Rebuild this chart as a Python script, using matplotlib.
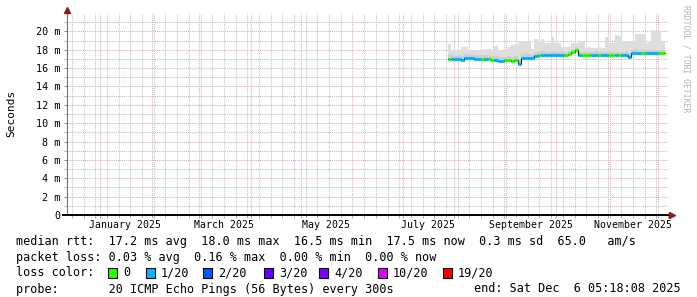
import pandas as pd
import matplotlib
matplotlib.use("Agg")
import matplotlib.pyplot as plt
import matplotlib.dates as mdates
from matplotlib.patches import Rectangle

# values, one per 2-day bin starting 2025-07-28
bin_start = "2025-07-28"
median_ms = [17.03, 17.03, 17.03, 17.03, 16.90, 17.14, 17.14, 17.14,
             17.03, 17.03, 17.03, 17.03, 17.03,
             16.90, 16.85, 16.80, 16.80, 16.85, 16.85, 16.80, 16.85,
             16.50,
             17.15, 17.15, 17.15, 17.15, 17.30,
             17.45, 17.45, 17.45, 17.45, 17.45, 17.45, 17.45, 17.45, 17.45,
             17.50, 17.75, 18.00,
             17.45, 17.45, 17.40, 17.45, 17.45, 17.45, 17.45, 17.40, 17.45,
             17.45, 17.45, 17.45, 17.40, 17.45, 17.45,
             17.25,
             17.68, 17.68, 17.68, 17.68, 17.68, 17.68, 17.68, 17.68, 17.65, 17.60]
smoke_top = [18.66, 18.0, 18.0, 18.0, 18.3, 18.3,
             17.95, 17.95, 18.0, 17.95, 18.0, 18.1, 18.1,
             17.85, 18.45, 17.9, 17.85, 17.9, 18.3, 18.5, 18.6,
             18.8, 18.8, 18.8, 18.8, 18.1, 19.2, 19.0, 19.2,
             18.7, 18.7, 19.4, 18.7, 18.7, 18.3, 18.3, 18.3,
             18.7, 18.7, 18.9, 19.0,
             18.2, 18.3, 18.2, 18.2, 18.3, 18.2, 19.4, 18.7, 18.7,
             19.6, 19.5, 19.0, 18.9, 18.8, 18.9, 19.75, 19.7, 19.7,
             18.7, 18.8, 20.1, 20.0, 19.9, 18.9]
smoke_mid = [17.45, 17.4, 17.35, 17.4, 17.3, 17.5, 17.55, 17.5,
             17.4, 17.45, 17.4, 17.45, 17.4,
             17.3, 17.35, 17.2, 17.2, 17.25, 17.3, 17.25, 17.3,
             17.0,
             17.55, 17.6, 17.5, 17.55, 17.7,
             17.8, 17.85, 17.8, 17.8, 17.85, 17.8, 17.8, 17.85, 17.8,
             17.85, 18.1, 18.3,
             17.8, 17.8, 17.75, 17.8, 17.8, 17.85, 17.8, 17.75, 17.8,
             17.85, 17.8, 17.8, 17.75, 17.8, 17.85,
             17.6,
             18.0, 18.05, 18.0, 18.05, 18.0, 18.0, 18.05, 18.0, 18.0, 17.95]
smoke_low = [16.85, 16.85, 16.85, 16.85, 16.70, 16.95, 16.95, 16.95,
             16.85, 16.85, 16.85, 16.85, 16.85,
             16.70, 16.65, 16.60, 16.60, 16.65, 16.65, 16.60, 16.65,
             16.35,
             16.95, 16.95, 16.95, 16.95, 17.10,
             17.25, 17.25, 17.25, 17.25, 17.25, 17.25, 17.25, 17.25, 17.25,
             17.30, 17.55, 17.80,
             17.25, 17.25, 17.20, 17.25, 17.25, 17.25, 17.25, 17.20, 17.25,
             17.25, 17.25, 17.25, 17.20, 17.25, 17.25,
             17.05,
             17.45, 17.45, 17.45, 17.45, 17.45, 17.45, 17.45, 17.45, 17.45, 17.40]
# packet loss per bin: 0 -> 0/20, 1 -> 1/20
loss_level = [0, 1, 1, 1, 1, 1, 1, 1, 1, 1, 0, 1, 0, 0, 1, 1, 1, 0, 0, 0, 0,
              1, 1, 1, 1, 1, 1, 0, 1, 1, 1, 1, 1, 1, 1, 0, 0, 0, 0,
              1, 0, 0, 0, 1, 1, 0, 1, 1, 0, 0, 1, 0, 1, 1, 1,
              1, 1, 1, 0, 1, 1, 1, 1, 0, 0]

y_ticks = [0, 2, 4, 6, 8, 10, 12, 14, 16, 18, 20]
y_labels = ["0", "2 m", "4 m", "6 m", "8 m", "10 m", "12 m", "14 m", "16 m", "18 m", "20 m"]
month_labels = ["January 2025", "March 2025", "May 2025", "July 2025",
                "September 2025", "November 2025"]
month_label_at = ["2025-01-16", "2025-03-16", "2025-05-16", "2025-07-16",
                  "2025-09-16", "2025-11-16"]
x_start, x_end = "2024-12-12", "2025-12-07"

loss_names = ["0", "1/20", "2/20", "3/20", "4/20", "10/20", "19/20"]
loss_colors = ["#26ff00", "#00b8ff", "#0059ff", "#5e00ff", "#7e00ff", "#dd00ff", "#ff0000"]

MONO = "DejaVu Sans Mono"
W, H = 697, 297

fig = plt.figure(figsize=(W / 100, H / 100), dpi=100)
fig.patch.set_facecolor("white")
ax = fig.add_axes([67 / W, 1 - 215 / H, 601 / W, 202 / H])

dates = pd.date_range(bin_start, periods=len(median_ms), freq="2D")
edges = list(dates) + [dates[-1] + pd.Timedelta(days=2)]

# smoke
ax.fill_between(edges, smoke_low + smoke_low[-1:], smoke_top + smoke_top[-1:],
                step="post", color="#dedede", lw=0, zorder=2)
ax.fill_between(edges, smoke_low + smoke_low[-1:], smoke_mid + smoke_mid[-1:],
                step="post", color="#cfcfcf", lw=0, zorder=2)

# median: thin black steps, coloured bars by loss on top
ax.step(edges, median_ms + median_ms[-1:], where="post", color="black", lw=0.8, zorder=3)
for i, m in enumerate(median_ms):
    ax.hlines(m, edges[i], edges[i + 1], color=loss_colors[loss_level[i]],
              lw=2.3, zorder=4)

ax.set_xlim(pd.Timestamp(x_start), pd.Timestamp(x_end))
ax.set_ylim(0, 22)

# grid
ax.xaxis.set_major_locator(mdates.MonthLocator())
ax.xaxis.set_minor_locator(mdates.WeekdayLocator(byweekday=mdates.SU))
ax.xaxis.set_major_formatter(plt.NullFormatter())
ax.set_yticks(y_ticks)
ax.set_yticks(range(1, 22, 2), minor=True)
ax.set_yticklabels(y_labels, fontfamily=MONO, fontsize=7.3)
dot = (0, (1, 1))
ax.grid(True, which="minor", color="#bdbdbd", lw=0.7, ls=dot, zorder=0)
ax.grid(True, which="major", color="#f0a4a4", lw=0.7, ls=dot, zorder=1)
ax.tick_params(which="both", length=2, width=0.7, color="#b0b0b0", pad=3)
ax.tick_params(axis="y", which="major", color="#888888")

for lbl, d in zip(month_labels, month_label_at):
    ax.text(pd.Timestamp(d), -10 / 202, lbl, transform=ax.get_xaxis_transform(),
            ha="center", va="center", fontfamily=MONO, fontsize=7.1)

for s in ax.spines.values():
    s.set_visible(False)
ax.plot([0, 0], [0, 1.01], transform=ax.transAxes, color="#777777", lw=0.8, clip_on=False, zorder=5)
ax.plot([-0.006, 1.004], [0, 0], transform=ax.transAxes, color="black", lw=1.4, clip_on=False, zorder=5)
ax.plot([0], [1.015], transform=ax.transAxes, marker="^", color="#8b1a1a", ms=4, clip_on=False, zorder=6)
ax.plot([1.006], [0], transform=ax.transAxes, marker=">", color="#8b1a1a", ms=4, clip_on=False, zorder=6)

fig.text(11 / W, 1 - 113 / H, "Seconds", rotation=90, ha="center", va="center",
         fontfamily=MONO, fontsize=8)
fig.text(686 / W, 1 - 5 / H, "RRDTOOL / TOBI OETIKER", rotation=-90, ha="center", va="top",
         fontfamily=MONO, fontsize=5.9, color="#b4b4b4")

# legend block
def fy(py):
    return 1 - py / H

lines = [
    "median rtt:  17.2 ms avg  18.0 ms max  16.5 ms min  17.5 ms now  0.3 ms sd  65.0   am/s",
    "packet loss: 0.03 % avg  0.16 % max  0.00 % min  0.00 % now",
    "loss color:",
    "probe:       20 ICMP Echo Pings (56 Bytes) every 300s",
]
for k, t in enumerate(lines):
    fig.text(16 / W, fy(241 + 16 * k), t, ha="left", va="center", fontfamily=MONO, fontsize=8.5)
fig.text(681 / W, fy(289), "end: Sat Dec  6 05:18:08 2025", ha="right", va="center",
         fontfamily=MONO, fontsize=8.5)

box_x = [108, 146, 203, 264, 319, 378, 443]
for bx, name, col in zip(box_x, loss_names, loss_colors):
    fig.patches.append(Rectangle((bx / W, fy(278)), 9 / W, 10 / H, transform=fig.transFigure,
                                 facecolor=col, edgecolor="black", lw=0.8))
    fig.text((bx + 15) / W, fy(273), name, ha="left", va="center", fontfamily=MONO, fontsize=8.5)

fig.savefig("out.png", dpi=100)
